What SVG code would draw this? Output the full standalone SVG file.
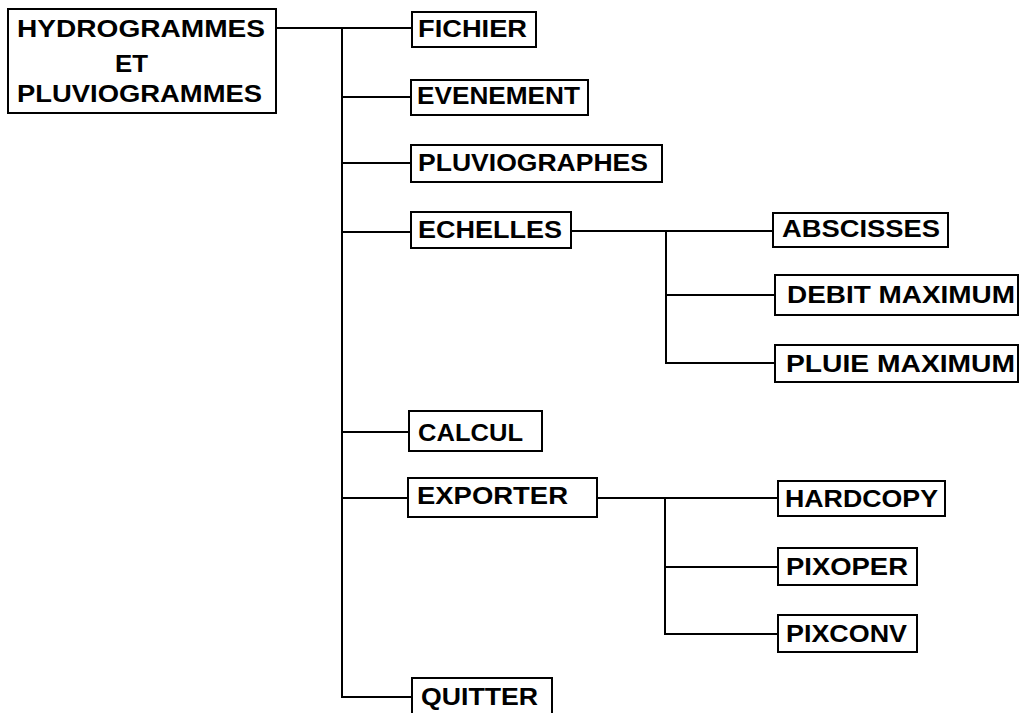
<svg xmlns="http://www.w3.org/2000/svg" width="1021" height="713" viewBox="0 0 1021 713">
  <style>
    .box { fill: #fff; stroke: #000; stroke-width: 2; }
    .lbl { font-family: "Liberation Sans", Arial, sans-serif; font-weight: bold; font-size: 23px; fill: #000; }
    .wire { fill: none; stroke: #000; stroke-width: 2; }
  </style>
  <rect width="1021" height="713" fill="#fff"/>

  <!-- connectors -->
  <g id="connectors">
    <path class="wire" d="M276 28 H412"/>
    <path class="wire" d="M342 28 V697 H412"/>
    <path class="wire" d="M342 97 H411"/>
    <path class="wire" d="M342 163 H411"/>
    <path class="wire" d="M342 232 H411"/>
    <path class="wire" d="M342 432 H409"/>
    <path class="wire" d="M342 498 H408"/>
    <path class="wire" d="M571 231 H773"/>
    <path class="wire" d="M666 231 V363 H775"/>
    <path class="wire" d="M666 295 H775"/>
    <path class="wire" d="M597 498 H778"/>
    <path class="wire" d="M665 498 V634 H778"/>
    <path class="wire" d="M665 567 H778"/>
  </g>

  <!-- main menu -->
  <g id="root">
    <rect class="box" x="8" y="9" width="268" height="104"/>
    <text class="lbl" x="17" y="37" textLength="248" lengthAdjust="spacingAndGlyphs">HYDROGRAMMES</text>
    <text class="lbl" x="115" y="72" textLength="33" lengthAdjust="spacingAndGlyphs">ET</text>
    <text class="lbl" x="17" y="102" textLength="245" lengthAdjust="spacingAndGlyphs">PLUVIOGRAMMES</text>
  </g>

  <g id="fichier">
    <rect class="box" x="412" y="12" width="124" height="35"/>
    <text class="lbl" x="418" y="37" textLength="109" lengthAdjust="spacingAndGlyphs">FICHIER</text>
  </g>
  <g id="evenement">
    <rect class="box" x="411" y="80" width="177" height="35"/>
    <text class="lbl" x="417" y="104" textLength="163" lengthAdjust="spacingAndGlyphs">EVENEMENT</text>
  </g>
  <g id="pluviographes">
    <rect class="box" x="411" y="145" width="251" height="37"/>
    <text class="lbl" x="418" y="171" textLength="230" lengthAdjust="spacingAndGlyphs">PLUVIOGRAPHES</text>
  </g>
  <g id="echelles">
    <rect class="box" x="411" y="212" width="160" height="36"/>
    <text class="lbl" x="418" y="238" textLength="144" lengthAdjust="spacingAndGlyphs">ECHELLES</text>
  </g>
  <g id="calcul">
    <rect class="box" x="409" y="411" width="133" height="40"/>
    <text class="lbl" x="418" y="441" textLength="105" lengthAdjust="spacingAndGlyphs">CALCUL</text>
  </g>
  <g id="exporter">
    <rect class="box" x="408" y="478" width="189" height="39"/>
    <text class="lbl" x="417" y="504" textLength="151" lengthAdjust="spacingAndGlyphs">EXPORTER</text>
  </g>
  <g id="quitter">
    <rect class="box" x="412" y="678" width="140" height="40"/>
    <text class="lbl" x="421" y="705" textLength="117" lengthAdjust="spacingAndGlyphs">QUITTER</text>
  </g>

  <!-- ECHELLES sub-menu -->
  <g id="abscisses">
    <rect class="box" x="773" y="213" width="175" height="34"/>
    <text class="lbl" x="782" y="237" textLength="158" lengthAdjust="spacingAndGlyphs">ABSCISSES</text>
  </g>
  <g id="debit-maximum">
    <rect class="box" x="775" y="275" width="243" height="40"/>
    <text class="lbl" x="787" y="303" textLength="228" lengthAdjust="spacingAndGlyphs">DEBIT MAXIMUM</text>
  </g>
  <g id="pluie-maximum">
    <rect class="box" x="775" y="345" width="243" height="37"/>
    <text class="lbl" x="786" y="372" textLength="229" lengthAdjust="spacingAndGlyphs">PLUIE MAXIMUM</text>
  </g>

  <!-- EXPORTER sub-menu -->
  <g id="hardcopy">
    <rect class="box" x="778" y="481" width="167" height="35"/>
    <text class="lbl" x="785" y="507" textLength="153" lengthAdjust="spacingAndGlyphs">HARDCOPY</text>
  </g>
  <g id="pixoper">
    <rect class="box" x="778" y="548" width="139" height="37"/>
    <text class="lbl" x="786" y="575" textLength="122" lengthAdjust="spacingAndGlyphs">PIXOPER</text>
  </g>
  <g id="pixconv">
    <rect class="box" x="778" y="615" width="139" height="37"/>
    <text class="lbl" x="786" y="642" textLength="121" lengthAdjust="spacingAndGlyphs">PIXCONV</text>
  </g>
</svg>
